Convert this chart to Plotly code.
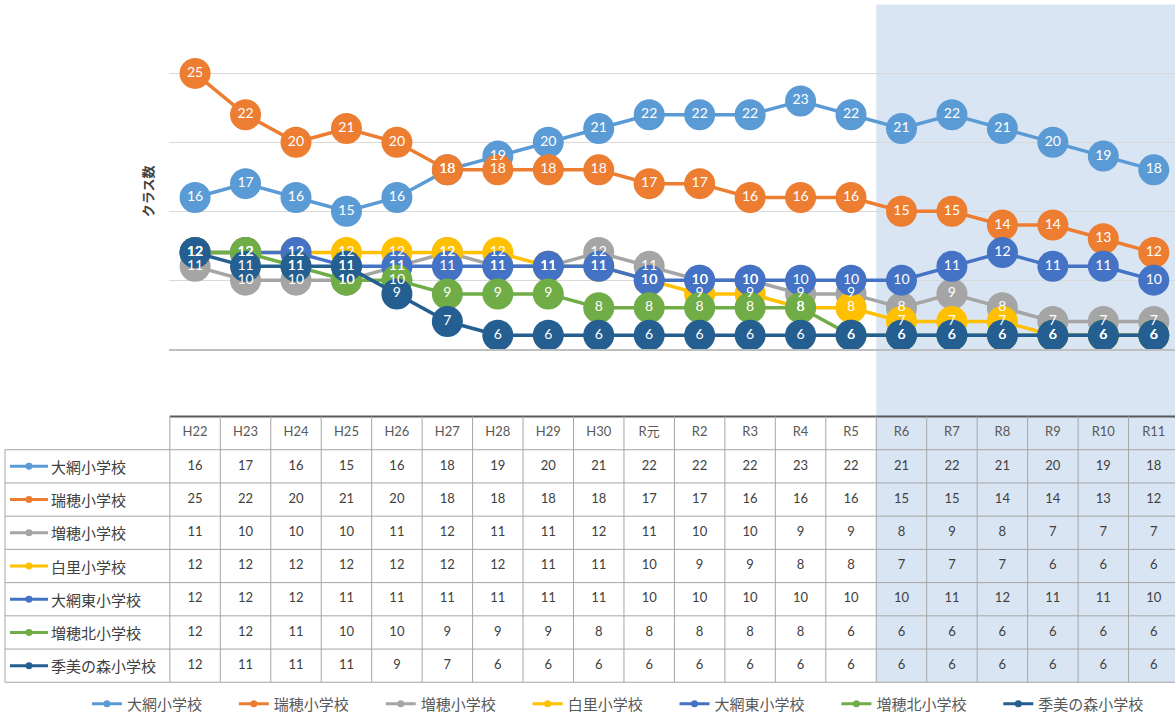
import plotly.graph_objects as go

# ---------------- data ----------------
categories = ["H22", "H23", "H24", "H25", "H26", "H27", "H28", "H29", "H30", "R元",
              "R2", "R3", "R4", "R5", "R6", "R7", "R8", "R9", "R10", "R11"]
schools = ["大網小学校", "瑞穂小学校", "増穂小学校", "白里小学校",
           "大網東小学校", "増穂北小学校", "季美の森小学校"]
oami = [16, 17, 16, 15, 16, 18, 19, 20, 21, 22, 22, 22, 23, 22, 21, 22, 21, 20, 19, 18]
mizuho = [25, 22, 20, 21, 20, 18, 18, 18, 18, 17, 17, 16, 16, 16, 15, 15, 14, 14, 13, 12]
masuho = [11, 10, 10, 10, 11, 12, 11, 11, 12, 11, 10, 10, 9, 9, 8, 9, 8, 7, 7, 7]
shirasato = [12, 12, 12, 12, 12, 12, 12, 11, 11, 10, 9, 9, 8, 8, 7, 7, 7, 6, 6, 6]
oami_higashi = [12, 12, 12, 11, 11, 11, 11, 11, 11, 10, 10, 10, 10, 10, 10, 11, 12, 11, 11, 10]
masuho_kita = [12, 12, 11, 10, 10, 9, 9, 9, 8, 8, 8, 8, 8, 6, 6, 6, 6, 6, 6, 6]
kimi_no_mori = [12, 11, 11, 11, 9, 7, 6, 6, 6, 6, 6, 6, 6, 6, 6, 6, 6, 6, 6, 6]
series = [oami, mizuho, masuho, shirasato, oami_higashi, masuho_kita, kimi_no_mori]
colors = ["#5B9BD5", "#ED7D31", "#A5A5A5", "#FFC000", "#4472C4", "#70AD47", "#255E91"]
forecast_start = "R6"
y_title = "クラス数"

# ---------------- layout geometry ----------------
W, H = 1176, 721
col_w = 50.5
plot_left_px = 169
plot_top_px, plot_bot_px = 4.5, 352
table_top_px, table_bot_px = 420, 688
n_rows = len(schools) + 1

def py(px):
    return 1 - px / H

def px_(x):
    return x / W

x_start = -0.5 - 1 / col_w
x_end = x_start + (W - plot_left_px) / col_w
t0, t1 = py(table_bot_px), py(table_top_px)

def row_paper(k):  # k row boundary, 0 = bottom
    return t0 + (t1 - t0) * k / n_rows

CJK = "Noto Sans CJK JP"
NUM = "Lato, Noto Sans CJK JP"

fig = go.Figure()

# line + marker traces
for name, vals, c in zip(schools, series, colors):
    fig.add_trace(go.Scatter(x=categories, y=vals, mode="lines+markers",
                             line=dict(color=c, width=3.5),
                             marker=dict(size=31, color=c),
                             showlegend=False, hoverinfo="skip"))
# data labels on top
for name, vals, c in zip(schools, series, colors):
    fig.add_trace(go.Scatter(x=categories, y=vals, mode="text", text=[str(v) for v in vals],
                             textfont=dict(color="white", size=14, family=NUM),
                             showlegend=False, hoverinfo="skip"))
# legend entries
for name, c in zip(schools, colors):
    fig.add_trace(go.Scatter(x=[None], y=[None], mode="lines+markers",
                             line=dict(color=c, width=3),
                             marker=dict(size=7, color=c),
                             name=name + "\u00a0" * 8))

# table header + rows
fig.add_trace(go.Scatter(x=categories, y=[n_rows - 0.5] * len(categories), yaxis="y2",
                         mode="text", text=categories,
                         textfont=dict(color="#595959", size=13, family=NUM),
                         showlegend=False, hoverinfo="skip"))
for i, vals in enumerate(series):
    fig.add_trace(go.Scatter(x=categories, y=[n_rows - 1.5 - i] * len(categories), yaxis="y2",
                             mode="text", text=[str(v) for v in vals],
                             textfont=dict(color="#404040", size=13, family=NUM),
                             showlegend=False, hoverinfo="skip"))

shapes = []
fs = categories.index(forecast_start) - 0.5
shapes.append(dict(type="rect", xref="x", yref="paper", x0=fs, x1=len(categories),
                   y0=t0, y1=py(plot_top_px), fillcolor="#DAE5F3", line=dict(width=0),
                   layer="below"))
grid_c = "#A6A6A6"
# horizontal table lines
for k in range(0, n_rows):
    shapes.append(dict(type="line", xref="paper", yref="paper", x0=px_(5), x1=1,
                       y0=row_paper(k), y1=row_paper(k), line=dict(color=grid_c, width=1)))
# top border
shapes.append(dict(type="line", xref="x", yref="paper", x0=-0.5, x1=len(categories),
                   y0=row_paper(n_rows), y1=row_paper(n_rows), line=dict(color="#595959", width=2)))
# vertical lines
for k in range(len(categories) + 1):
    shapes.append(dict(type="line", xref="x", yref="paper", x0=k - 0.5, x1=k - 0.5,
                       y0=row_paper(0), y1=row_paper(n_rows), line=dict(color=grid_c, width=1)))
shapes.append(dict(type="line", xref="paper", yref="paper", x0=px_(5), x1=px_(5),
                   y0=row_paper(0), y1=row_paper(n_rows - 1), line=dict(color=grid_c, width=1)))

annotations = []
for i, (name, c) in enumerate(zip(schools, colors)):
    yc = row_paper(n_rows - 1 - i) - (t1 - t0) / n_rows / 2
    shapes.append(dict(type="line", xref="paper", yref="paper", x0=px_(10), x1=px_(48),
                       y0=yc, y1=yc, line=dict(color=c, width=3)))
    shapes.append(dict(type="circle", xref="paper", yref="paper",
                       x0=px_(25.5), x1=px_(32.5), y0=yc - 3.5 / H, y1=yc + 3.5 / H,
                       fillcolor=c, line=dict(width=0)))
    annotations.append(dict(xref="paper", yref="paper", x=px_(49), y=yc, xanchor="left",
                            yanchor="middle", text=name, showarrow=False,
                            font=dict(family=CJK, size=15, color="#404040")))

annotations.append(dict(xref="paper", yref="paper", x=px_(148), y=py(193), text="<b>" + y_title + "</b>",
                        textangle=-90, showarrow=False, xanchor="center", yanchor="middle",
                        font=dict(family=CJK, size=13, color="#404040")))

fig.update_layout(
    width=W, height=H, margin=dict(l=0, r=0, t=0, b=0),
    paper_bgcolor="white", plot_bgcolor="rgba(0,0,0,0)",
    xaxis=dict(domain=[px_(plot_left_px), 1], range=[x_start, x_end], type="category",
               categoryorder="array", categoryarray=categories,
               showgrid=False, showticklabels=False, ticks="", zeroline=False,
               showline=True, linecolor="#BFBFBF", linewidth=1.5, anchor="y"),
    yaxis=dict(domain=[py(plot_bot_px), py(plot_top_px)], range=[5, 30], dtick=5,
               showgrid=True, gridcolor="#D9D9D9", gridwidth=1, showticklabels=False,
               ticks="", zeroline=False, anchor="x"),
    yaxis2=dict(domain=[t0, t1], range=[0, n_rows], visible=False, anchor="x"),
    shapes=shapes, annotations=annotations,
    legend=dict(orientation="h", x=px_(632), xanchor="center", y=py(710), yanchor="middle",
                font=dict(family=CJK, size=15, color="#595959"), itemwidth=30,
                bgcolor="rgba(0,0,0,0)"),
    showlegend=True,
)

fig.write_html("out.html", config={"displayModeBar": False},
               post_script="document.body.style.margin='0';document.body.style.overflow='hidden';")
